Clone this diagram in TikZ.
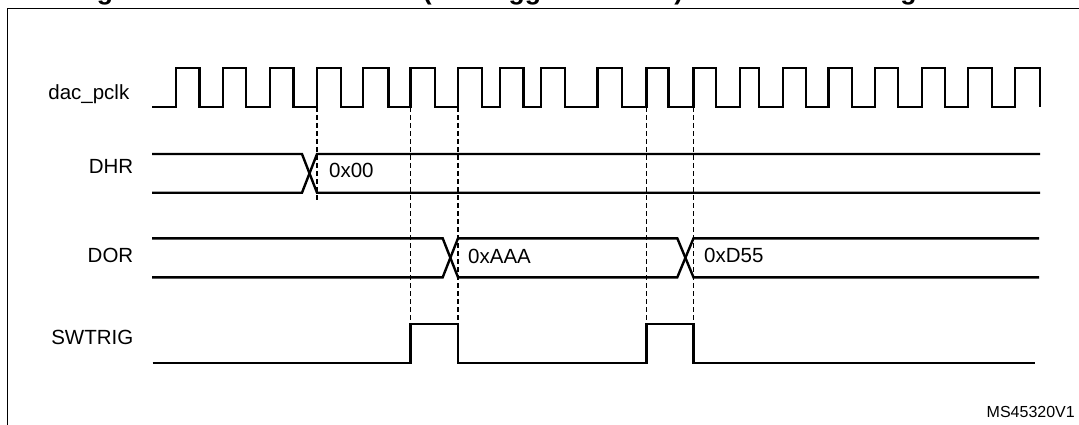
\documentclass[tikz,border=0pt]{standalone}
\usepackage{fontspec}
\setmainfont{Liberation Sans}
\newcommand\lblfont{\fontsize{20.5}{24}\selectfont}
\newcommand\smallfnt{\fontsize{16}{19}\selectfont}
\newcommand\ttlfont{\fontsize{26.6}{30}\selectfont\bfseries}
\tikzset{
  sig/.style={line width=2.4pt, line join=miter, line cap=butt},
  guide/.style={line width=1.1pt, dash pattern=on 5pt off 3pt},
  frame/.style={line width=1.3pt},
  lbl/.style={anchor=base east, inner sep=0pt, font=\lblfont},
  val/.style={anchor=base west, inner sep=0pt, font=\lblfont},
}
\begin{document}
\begin{tikzpicture}[x=1pt,y=-1pt]
\useasboundingbox (0,0) rectangle (1079,425);
\begin{scope}
  \clip (0,0) rectangle (1079,425);
  \node[anchor=base west, inner sep=0pt, font=\ttlfont] (title) at (73,-0.8)
    {Figure 93. DAC conversion (SW trigger enabled) with LFSR wave generation};
  \draw[frame] (7.5,8.5) rectangle (1100,445);
\end{scope}

% labels
\node[lbl] (lclk) at (129.5,100) {dac\_pclk};
\node[lbl] (ldhr) at (133.5,174) {DHR};
\node[lbl] (ldor) at (133.5,262.3) {DOR};
\node[lbl] (lsw)  at (133.5,344) {SWTRIG};

% clock
\draw[sig] (152,107)
  foreach \r/\f in {176/199.3,223/246,270/293.3,317/341,363/388.3,410.5/435,458/481.7,
                    500/523.5,541/565,597.3/621.7,646.5/668.3,693.5/716,740/759,
                    782.7/806,828.3/851.7,875/898,921.7/945,968/992,1015/1040}
  { -- (\r,107) -- (\r,68.3) -- (\f,68.3) -- (\f,107) };

% DHR
\draw[sig] (152,154) -- (302,154) -- (317,192.7) -- (1040,192.7);
\draw[sig] (152,192.7) -- (302,192.7) -- (317,154) -- (1040,154);
\node[val] (v00) at (329,177.3) {0x00};

% DOR
\draw[sig] (152,238.3) -- (442.7,238.3) -- (458,277.3) -- (677.3,277.3) -- (693.5,238.3) -- (1039,238.3);
\draw[sig] (152,277.3) -- (442.7,277.3) -- (458,238.3) -- (677.3,238.3) -- (693.5,277.3) -- (1039,277.3);
\node[val] (vaaa) at (468,263.3) {0xAAA};
\node[val] (vd55) at (704,262.7) {0xD55};

% SWTRIG
\draw[sig] (152.7,363) -- (410.5,363) -- (410.5,324) -- (458,324) -- (458,363)
  -- (646.5,363) -- (646.5,324) -- (693.5,324) -- (693.5,363) -- (1035,363);

% guide lines
\coordinate (g1t) at (317,107);   \coordinate (g1b) at (317,200);
\coordinate (g2t) at (410.5,107); \coordinate (g2b) at (410.5,324);
\coordinate (g3t) at (458,107);   \coordinate (g3b) at (458,324);
\coordinate (g4t) at (646.5,107); \coordinate (g4b) at (646.5,324);
\coordinate (g5t) at (693.5,107); \coordinate (g5b) at (693.5,324);
\draw[guide] (g1t) -- (g1b);
\draw[guide] (g2t) -- (g2b);
\draw[guide] (g3t) -- (g3b);
\draw[guide] (g4t) -- (g4b);
\draw[guide] (g5t) -- (g5b);

\node[anchor=base east, inner sep=0pt, font=\smallfnt] (ref) at (1075,417.3) {MS45320V1};
\end{tikzpicture}
\end{document}
